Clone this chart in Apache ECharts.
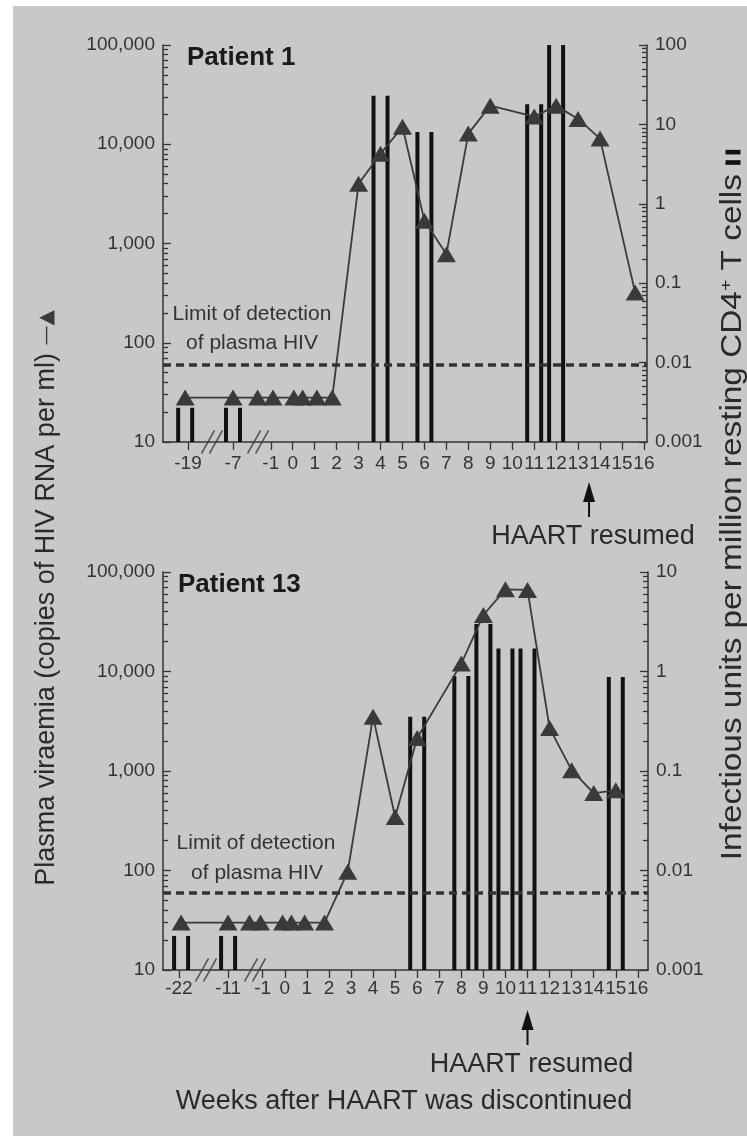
<!DOCTYPE html>
<html>
<head>
<meta charset="utf-8">
<title>Plasma viraemia and infectious units</title>
<script src="https://cdn.jsdelivr.net/npm/echarts@6/dist/echarts.min.js"></script>
<style>
    html, body { margin: 0; padding: 0; background: #fff; }
    #chart { width: 747px; height: 1136px; }
</style>
</head>
<body>
<div id="chart"></div>
<script>
// x positions are in weeks; the weeks before -1 are squeezed across the axis breaks
// Patient 1
var p1TickPos = [-4.77, -2.72, -1, 0, 1, 2, 3, 4, 5, 6, 7, 8, 9, 10, 11, 12, 13, 14, 15, 16];
var p1TickLabels = ['-19', '-7', '-1', '0', '1', '2', '3', '4', '5', '6', '7', '8', '9', '10', '11', '12', '13', '14', '15', '16'];
var p1Breaks = [-3.68, -1.58];
var p1RnaWeek = [-4.9, -2.72, -1.6, -0.9, 0.05, 0.45, 1.1, 1.8, 3, 4, 5, 6, 7, 8, 9, 11, 12, 13, 14, 15.6];
var p1Rna = [28, 28, 28, 28, 28, 28, 28, 28, 4000, 8000, 15000, 1700, 780, 12800, 24500, 19000, 24500, 18000, 11400, 320];
var p1CellWeek = [-4.9, -2.72, 4, 6, 11, 12];
var p1Cells = [0.0027, 0.0027, 23, 8, 18, 100];
var p1Haart = 13.5;

// Patient 13
var p2TickPos = [-4.8, -2.57, -1, 0, 1, 2, 3, 4, 5, 6, 7, 8, 9, 10, 11, 12, 13, 14, 15, 16];
var p2TickLabels = ['-22', '-11', '-1', '0', '1', '2', '3', '4', '5', '6', '7', '8', '9', '10', '11', '12', '13', '14', '15', '16'];
var p2Breaks = [-3.57, -1.35];
var p2RnaWeek = [-4.7, -2.57, -1.6, -1.1, -0.1, 0.3, 0.9, 1.8, 2.85, 4, 5, 6, 8, 9, 10, 11, 12, 13, 14, 15];
var p2Rna = [30, 30, 30, 30, 30, 30, 30, 30, 97, 3500, 345, 2150, 12000, 37000, 67000, 66000, 2700, 1020, 600, 640];
var p2CellWeek = [-4.7, -2.57, 6, 8, 9, 10, 11, 15];
var p2Cells = [0.0022, 0.0022, 0.35, 0.9, 3.0, 1.7, 1.7, 0.88];
var p2Haart = 11;

var detectionLimit = 60;
var rnaTicks = [10, 100, 1000, 10000, 100000];
var p1CellTicks = [0.001, 0.01, 0.1, 1, 10, 100];
var p2CellTicks = [0.001, 0.01, 0.1, 1, 10];

var FONT = '"Liberation Sans", Arial, sans-serif';
var INK = '#333';
var MARK = '#3a3a3a';

function minorValues(ticks) {
    var out = [];
    for (var i = 0; i < ticks.length - 1; i++) {
        for (var k = 2; k <= 9; k++) out.push(+(ticks[i] * k).toPrecision(3));
    }
    return out;
}

function withCommas(v) {
    return String(Math.round(v)).replace(/\B(?=(\d{3})+(?!\d))/g, ',');
}

function pairs(xs, ys) {
    return xs.map(function (x, i) { return [x, ys[i]]; });
}

function xAxisFor(grid, min, max, pos, labels, margin) {
    return {
        type: 'value', gridIndex: grid, min: min, max: max,
        axisLine: { onZero: false, lineStyle: { color: INK, width: 1.5 } },
        axisTick: { customValues: pos, length: 8, lineStyle: { color: INK, width: 1.3 } },
        axisLabel: {
            customValues: pos, margin: margin, color: INK, fontFamily: FONT, fontSize: 19,
            formatter: function (v) {
                var i = pos.indexOf(v);
                return i >= 0 ? labels[i] : '';
            }
        },
        splitLine: { show: false }
    };
}

function yAxisFor(grid, side, ticks, major, fmt) {
    var vals = major ? ticks : minorValues(ticks);
    return {
        type: 'log', logBase: 10, gridIndex: grid, position: side,
        min: ticks[0], max: ticks[ticks.length - 1],
        axisLine: { show: major, onZero: false, lineStyle: { color: INK, width: 1.5 } },
        axisTick: { show: true, inside: true, customValues: vals, length: major ? 8 : 5, lineStyle: { color: INK, width: 1.3 } },
        axisLabel: major ? { customValues: vals, margin: 8, color: INK, fontFamily: FONT, fontSize: 19, formatter: fmt } : { show: false },
        splitLine: { show: false }
    };
}

function cellFormatter(v) {
    return String(+(+v).toPrecision(3));
}

function renderCells(yMin) {
    return function (params, api) {
        var x = api.value(0);
        var top = api.coord([x, api.value(1)]);
        var base = api.coord([x, yMin]);
        var w = 4, gap = 7;
        var h = base[1] - top[1];
        return {
            type: 'group',
            children: [
                { type: 'rect', shape: { x: top[0] - gap - w / 2, y: top[1], width: w, height: h }, style: { fill: '#111' } },
                { type: 'rect', shape: { x: top[0] + gap - w / 2, y: top[1], width: w, height: h }, style: { fill: '#111' } }
            ]
        };
    };
}

function rnaSeries(xi, yi, xs, ys) {
    return {
        type: 'line', xAxisIndex: xi, yAxisIndex: yi, z: 4,
        data: pairs(xs, ys),
        symbol: 'triangle', symbolSize: [19, 16], showAllSymbol: true,
        itemStyle: { color: MARK, borderWidth: 0 },
        lineStyle: { color: MARK, width: 1.8 },
        markLine: {
            silent: true, symbol: 'none', label: { show: false },
            lineStyle: { color: INK, width: 3.5, type: [8, 5] },
            data: [{ yAxis: detectionLimit }]
        }
    };
}

function cellSeries(xi, yi, xs, ys, yMin) {
    return {
        type: 'custom', xAxisIndex: xi, yAxisIndex: yi, z: 3,
        data: pairs(xs, ys),
        renderItem: renderCells(yMin)
    };
}

function breakSeries(xi, yi, xs) {
    return {
        type: 'scatter', xAxisIndex: xi, yAxisIndex: yi, z: 5, clip: false, silent: true,
        data: xs.map(function (x) { return [x, rnaTicks[0]]; }),
        symbol: 'path://M0,23 L13,0 M8,23 L21,0', symbolSize: [21, 23],
        itemStyle: { color: 'rgba(0,0,0,0)', borderColor: '#3a3a3a', borderWidth: 1.6 }
    };
}

var chart = echarts.init(document.getElementById('chart'));

var textBits = [
    { type: 'rect', shape: { x: 0, y: 0, width: 747, height: 6 }, style: { fill: '#fff' }, silent: true },
    { type: 'rect', shape: { x: 0, y: 0, width: 13, height: 1136 }, style: { fill: '#fff' }, silent: true },
    { type: 'text', x: 187, y: 58, style: { text: 'Patient 1', font: 'bold 26px ' + FONT, fill: '#1a1a1a', verticalAlign: 'middle' } },
    { type: 'text', x: 178, y: 585, style: { text: 'Patient 13', font: 'bold 26px ' + FONT, fill: '#1a1a1a', verticalAlign: 'middle' } },
    { type: 'text', x: 252, y: 314, style: { text: 'Limit of detection', font: '21px ' + FONT, fill: INK, align: 'center', verticalAlign: 'middle' } },
    { type: 'text', x: 252, y: 343, style: { text: 'of plasma HIV', font: '21px ' + FONT, fill: INK, align: 'center', verticalAlign: 'middle' } },
    { type: 'text', x: 256, y: 843, style: { text: 'Limit of detection', font: '21px ' + FONT, fill: INK, align: 'center', verticalAlign: 'middle' } },
    { type: 'text', x: 257, y: 873, style: { text: 'of plasma HIV', font: '21px ' + FONT, fill: INK, align: 'center', verticalAlign: 'middle' } },
    { type: 'text', x: 404, y: 1102, style: { text: 'Weeks after HAART was discontinued', font: '27px ' + FONT, fill: '#2a2a2a', align: 'center', verticalAlign: 'middle' } },
    {
        type: 'text', x: 47, y: 598, rotation: Math.PI / 2,
        style: {
            text: '{t|Plasma viraemia (copies of HIV RNA per ml) }{s|—▲}',
            align: 'center', verticalAlign: 'middle',
            rich: {
                t: { font: '27px ' + FONT, fill: '#2a2a2a' },
                s: { font: '20px "DejaVu Sans", ' + FONT, fill: MARK }
            }
        }
    },
    {
        type: 'text', x: 733, y: 505, rotation: Math.PI / 2, scaleX: 1.15,
        style: {
            text: '{t|Infectious units per million resting CD4}{u|+}{t| T cells }{b|}{g|}{b|}',
            align: 'center', verticalAlign: 'middle',
            rich: {
                t: { font: '29px ' + FONT, fill: '#2a2a2a' },
                u: { font: '17px ' + FONT, fill: '#2a2a2a', padding: [0, 0, 14, 0] },
                b: { width: 4, height: 15, backgroundColor: '#111' },
                g: { width: 5, height: 15 }
            }
        }
    }
];

chart.setOption({
    animation: false,
    backgroundColor: '#c8c8c8',
    grid: [
        { left: 163, right: 100, top: 45, height: 397 },
        { left: 163, right: 99, top: 572, height: 398 }
    ],
    xAxis: [
        xAxisFor(0, -5.91, 16.14, p1TickPos, p1TickLabels, 12),
        xAxisFor(1, -5.52, 16.46, p2TickPos, p2TickLabels, 9)
    ],
    yAxis: [
        yAxisFor(0, 'left', rnaTicks, true, withCommas),
        yAxisFor(0, 'right', p1CellTicks, true, cellFormatter),
        yAxisFor(0, 'left', rnaTicks, false),
        yAxisFor(0, 'right', p1CellTicks, false),
        yAxisFor(1, 'left', rnaTicks, true, withCommas),
        yAxisFor(1, 'right', p2CellTicks, true, cellFormatter),
        yAxisFor(1, 'left', rnaTicks, false),
        yAxisFor(1, 'right', p2CellTicks, false)
    ],
    series: [
        cellSeries(0, 1, p1CellWeek, p1Cells, p1CellTicks[0]),
        rnaSeries(0, 0, p1RnaWeek, p1Rna),
        breakSeries(0, 0, p1Breaks),
        cellSeries(1, 5, p2CellWeek, p2Cells, p2CellTicks[0]),
        rnaSeries(1, 4, p2RnaWeek, p2Rna),
        breakSeries(1, 4, p2Breaks)
    ],
    graphic: textBits
});

// "HAART resumed" arrows placed from the axes
function haartMark(xAxisIndex, yAxisIndex, week) {
    var x = chart.convertToPixel({ xAxisIndex: xAxisIndex }, week);
    var base = chart.convertToPixel({ yAxisIndex: yAxisIndex }, rnaTicks[0]);
    var tip = base + 40;
    return [
        { type: 'polygon', shape: { points: [[x, tip], [x - 6, tip + 20], [x + 6, tip + 20]] }, style: { fill: '#111' } },
        { type: 'line', shape: { x1: x, y1: tip + 14, x2: x, y2: tip + 35 }, style: { stroke: '#111', lineWidth: 2 } },
        { type: 'text', x: x + 4, y: tip + 55, style: { text: 'HAART resumed', font: '27px ' + FONT, fill: '#2a2a2a', align: 'center', verticalAlign: 'middle' } }
    ];
}

chart.setOption({
    graphic: textBits.concat(haartMark(0, 0, p1Haart), haartMark(1, 4, p2Haart))
});
</script>
</body>
</html>
